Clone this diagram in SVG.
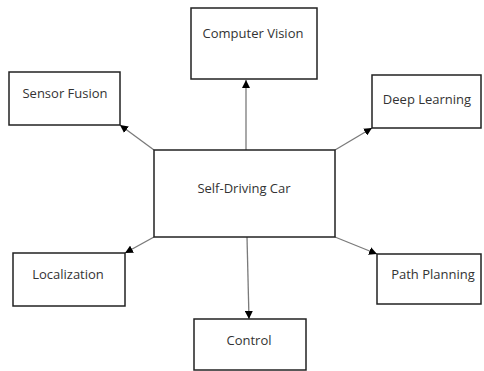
<svg xmlns="http://www.w3.org/2000/svg" width="484" height="371" viewBox="0 0 484 371">
  <style>
    .box { fill: #ffffff; stroke: #222222; stroke-width: 1.5; }
    .lbl { font-family: "Open Sans", "Liberation Sans", sans-serif; font-size: 13px; fill: #333333; text-anchor: middle; dominant-baseline: central; }
    .link { stroke: #7a7a7a; stroke-width: 1.3; fill: none; marker-end: url(#tip); }
  </style>
  <defs>
    <marker id="tip" viewBox="0 0 10 10" refX="10" refY="5" markerWidth="8" markerHeight="8" markerUnits="userSpaceOnUse" orient="auto">
      <path d="M0,0 L10,5 L0,10 Z" fill="#000000"/>
    </marker>
  </defs>
  <rect width="484" height="371" fill="#ffffff"/>

  <g id="connectors">
    <line class="link" x1="246" y1="150" x2="246" y2="80"/>
    <line class="link" x1="154" y1="150" x2="120" y2="125"/>
    <line class="link" x1="335" y1="150" x2="372" y2="128"/>
    <line class="link" x1="154" y1="237" x2="125" y2="253"/>
    <line class="link" x1="335" y1="237" x2="377" y2="254"/>
    <line class="link" x1="247" y1="237" x2="249" y2="319"/>
  </g>

  <g id="self-driving-car">
    <rect class="box" x="154" y="150" width="181" height="87"/>
    <text class="lbl" x="244" y="188">Self-Driving Car</text>
  </g>
  <g id="computer-vision">
    <rect class="box" x="191" y="8" width="126" height="71"/>
    <text class="lbl" x="253" y="33">Computer Vision</text>
  </g>
  <g id="sensor-fusion">
    <rect class="box" x="9" y="72" width="111" height="53"/>
    <text class="lbl" x="65" y="93">Sensor Fusion</text>
  </g>
  <g id="deep-learning">
    <rect class="box" x="372" y="75" width="109" height="53"/>
    <text class="lbl" x="427" y="99">Deep Learning</text>
  </g>
  <g id="localization">
    <rect class="box" x="13" y="253" width="112" height="53"/>
    <text class="lbl" x="68" y="274">Localization</text>
  </g>
  <g id="path-planning">
    <rect class="box" x="377" y="254" width="104" height="50"/>
    <text class="lbl" x="433" y="274">Path Planning</text>
  </g>
  <g id="control">
    <rect class="box" x="194" y="319" width="112" height="51"/>
    <text class="lbl" x="249" y="340">Control</text>
  </g>
</svg>
